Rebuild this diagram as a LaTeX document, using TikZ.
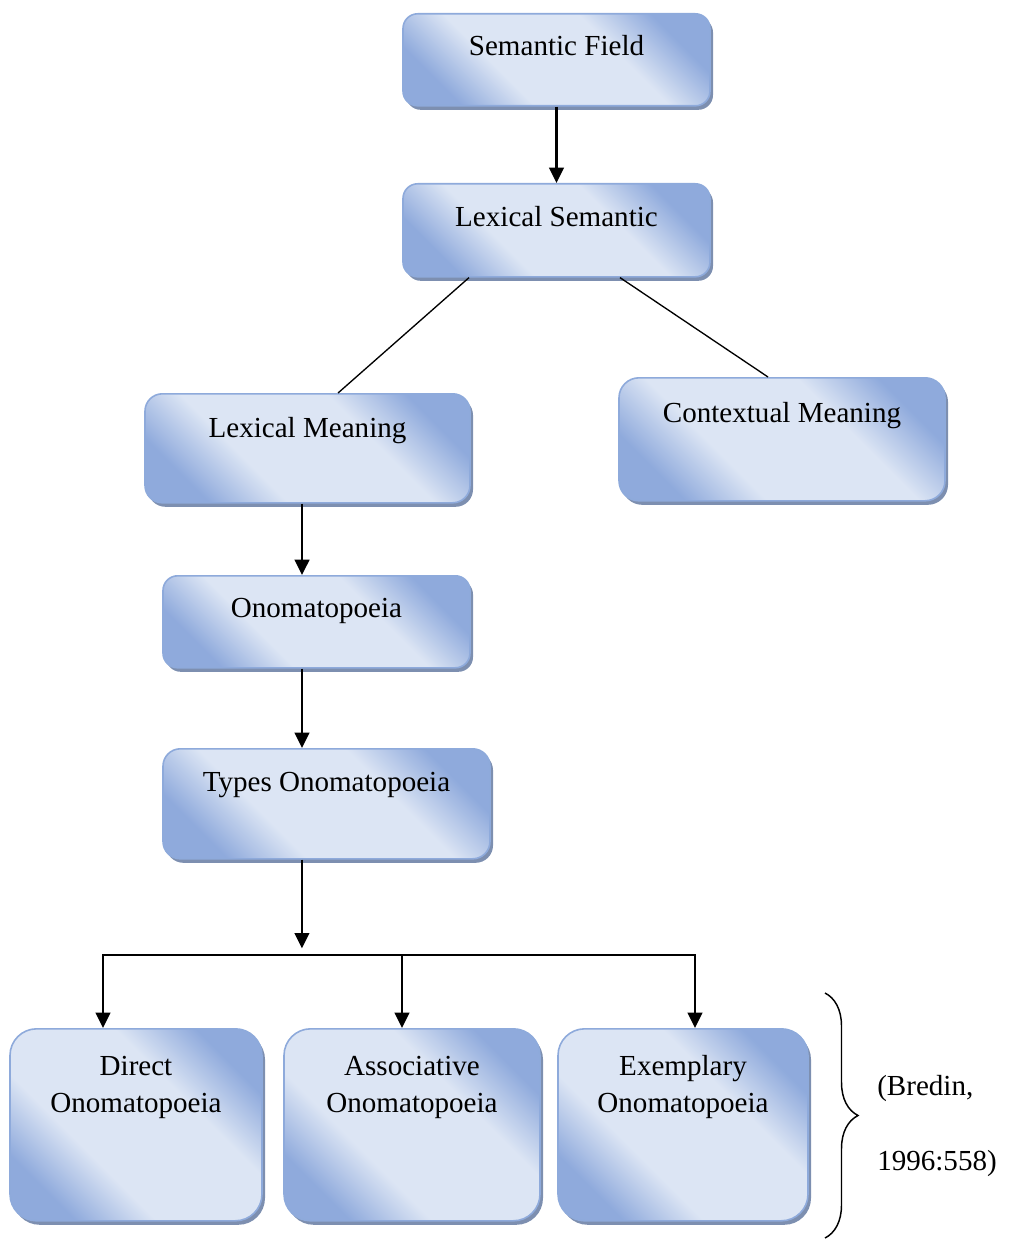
\documentclass[tikz,border=0pt]{standalone}
\usepackage{fontspec}
\setmainfont{Liberation Serif}
\usetikzlibrary{arrows.meta,shadows,decorations.pathreplacing}

\definecolor{boxline}{RGB}{142,170,219}
\definecolor{boxdark}{RGB}{143,170,220}
\definecolor{boxlight}{RGB}{220,229,244}
\definecolor{boxshadow}{RGB}{125,143,176}

\pgfdeclareverticalshading{boxshade}{100bp}{color(0bp)=(boxdark); color(25bp)=(boxdark); color(38bp)=(boxlight); color(62bp)=(boxlight); color(75bp)=(boxdark); color(100bp)=(boxdark)}

\tikzset{
  box/.style={draw=boxline, line width=1.2pt, inner sep=0pt, align=center,
    shading=boxshade, shading angle=-45,
    drop shadow={shadow xshift=2.25pt, shadow yshift=-3pt, fill=boxshadow, opacity=1},
    font=\fontsize{21.8}{27.75}\selectfont},
  arr/.style={-{Triangle[length=11.5pt,width=11pt]}, line width=1.6pt},
}

\begin{document}
\begin{tikzpicture}[x=0.75pt,y=0.75pt,yscale=-1,xscale=1]
	\useasboundingbox (0,0) rectangle (1014,1241);
	% boxes
	\node[box, rounded corners=11pt, minimum width=230.25pt, text height=31.5pt, text depth=37.5pt, anchor=north] (sfield) at (556.5,13) {Semantic Field};
	\node[box, rounded corners=11pt, minimum width=230.25pt, text height=32.25pt, text depth=37.5pt, anchor=north] (lsem) at (556.5,183) {Lexical Semantic};
	\node[box, rounded corners=13pt, minimum width=243.75pt, text height=33pt, text depth=48.75pt, anchor=north] (lmean) at (307.5,393) {Lexical Meaning};
	\node[box, rounded corners=15pt, minimum width=244.5pt, text height=33.75pt, text depth=58.5pt, anchor=north] (ctx) at (782,377) {Contextual Meaning};
	\node[box, rounded corners=11pt, minimum width=230.25pt, text height=31.5pt, text depth=37.5pt, anchor=north] (onom) at (316.5,575) {Onomatopoeia};
	\node[box, rounded corners=13pt, minimum width=245.25pt, text height=32.25pt, text depth=50.25pt, anchor=north] (types) at (326.5,748) {Types Onomatopoeia};
	\node[box, rounded corners=20pt, minimum width=189pt, text height=63pt, text depth=81pt, anchor=north] (direct) at (136,1028) {Direct\\Onomatopoeia};
	\node[box, rounded corners=20pt, minimum width=192pt, text height=63pt, text depth=81pt, anchor=north] (assoc) at (412,1028) {Associative\\Onomatopoeia};
	\node[box, rounded corners=20pt, minimum width=187.5pt, text height=63pt, text depth=81pt, anchor=north] (exemp) at (683,1028) {Exemplary\\Onomatopoeia};
	\node[anchor=base west, align=left, inner sep=0pt, font=\fontsize{21.8}{56.25}\selectfont] (cite) at (877,1170) {(Bredin,\\1996:558)};
	% connectors
	\draw[arr] (sfield) -- (lsem);
	\draw[line width=1pt] ([xshift=-65.6pt]lsem.south) -- ([xshift=22.9pt]lmean.north);
	\draw[line width=1pt] ([xshift=47.6pt]lsem.south) -- ([xshift=-10.5pt]ctx.north);
	\draw[arr] ([xshift=-4.1pt]lmean.south) -- ([xshift=-4.1pt]lmean.south |- onom.north);
	\draw[arr] ([xshift=-10.9pt]onom.south) -- ([xshift=-10.9pt]onom.south |- types.north);
	\coordinate (fork) at (302,955);
	\draw[arr, shorten >=5pt] ([xshift=-18.4pt]types.south) -- ([xshift=-18.4pt]types.south |- fork);
	\draw[arr] (fork) -| ([xshift=-24.75pt]direct.north);
	\draw[arr] (fork) -| ([xshift=9pt]exemp.north);
	\draw[arr] ([xshift=-7.5pt]assoc.north |- fork) -- ([xshift=-7.5pt]assoc.north);
	% brace
	\draw[line width=1.1pt, decorate, decoration={brace, amplitude=24.75pt}] (825,993) -- (825,1238);
\end{tikzpicture}
\end{document}
